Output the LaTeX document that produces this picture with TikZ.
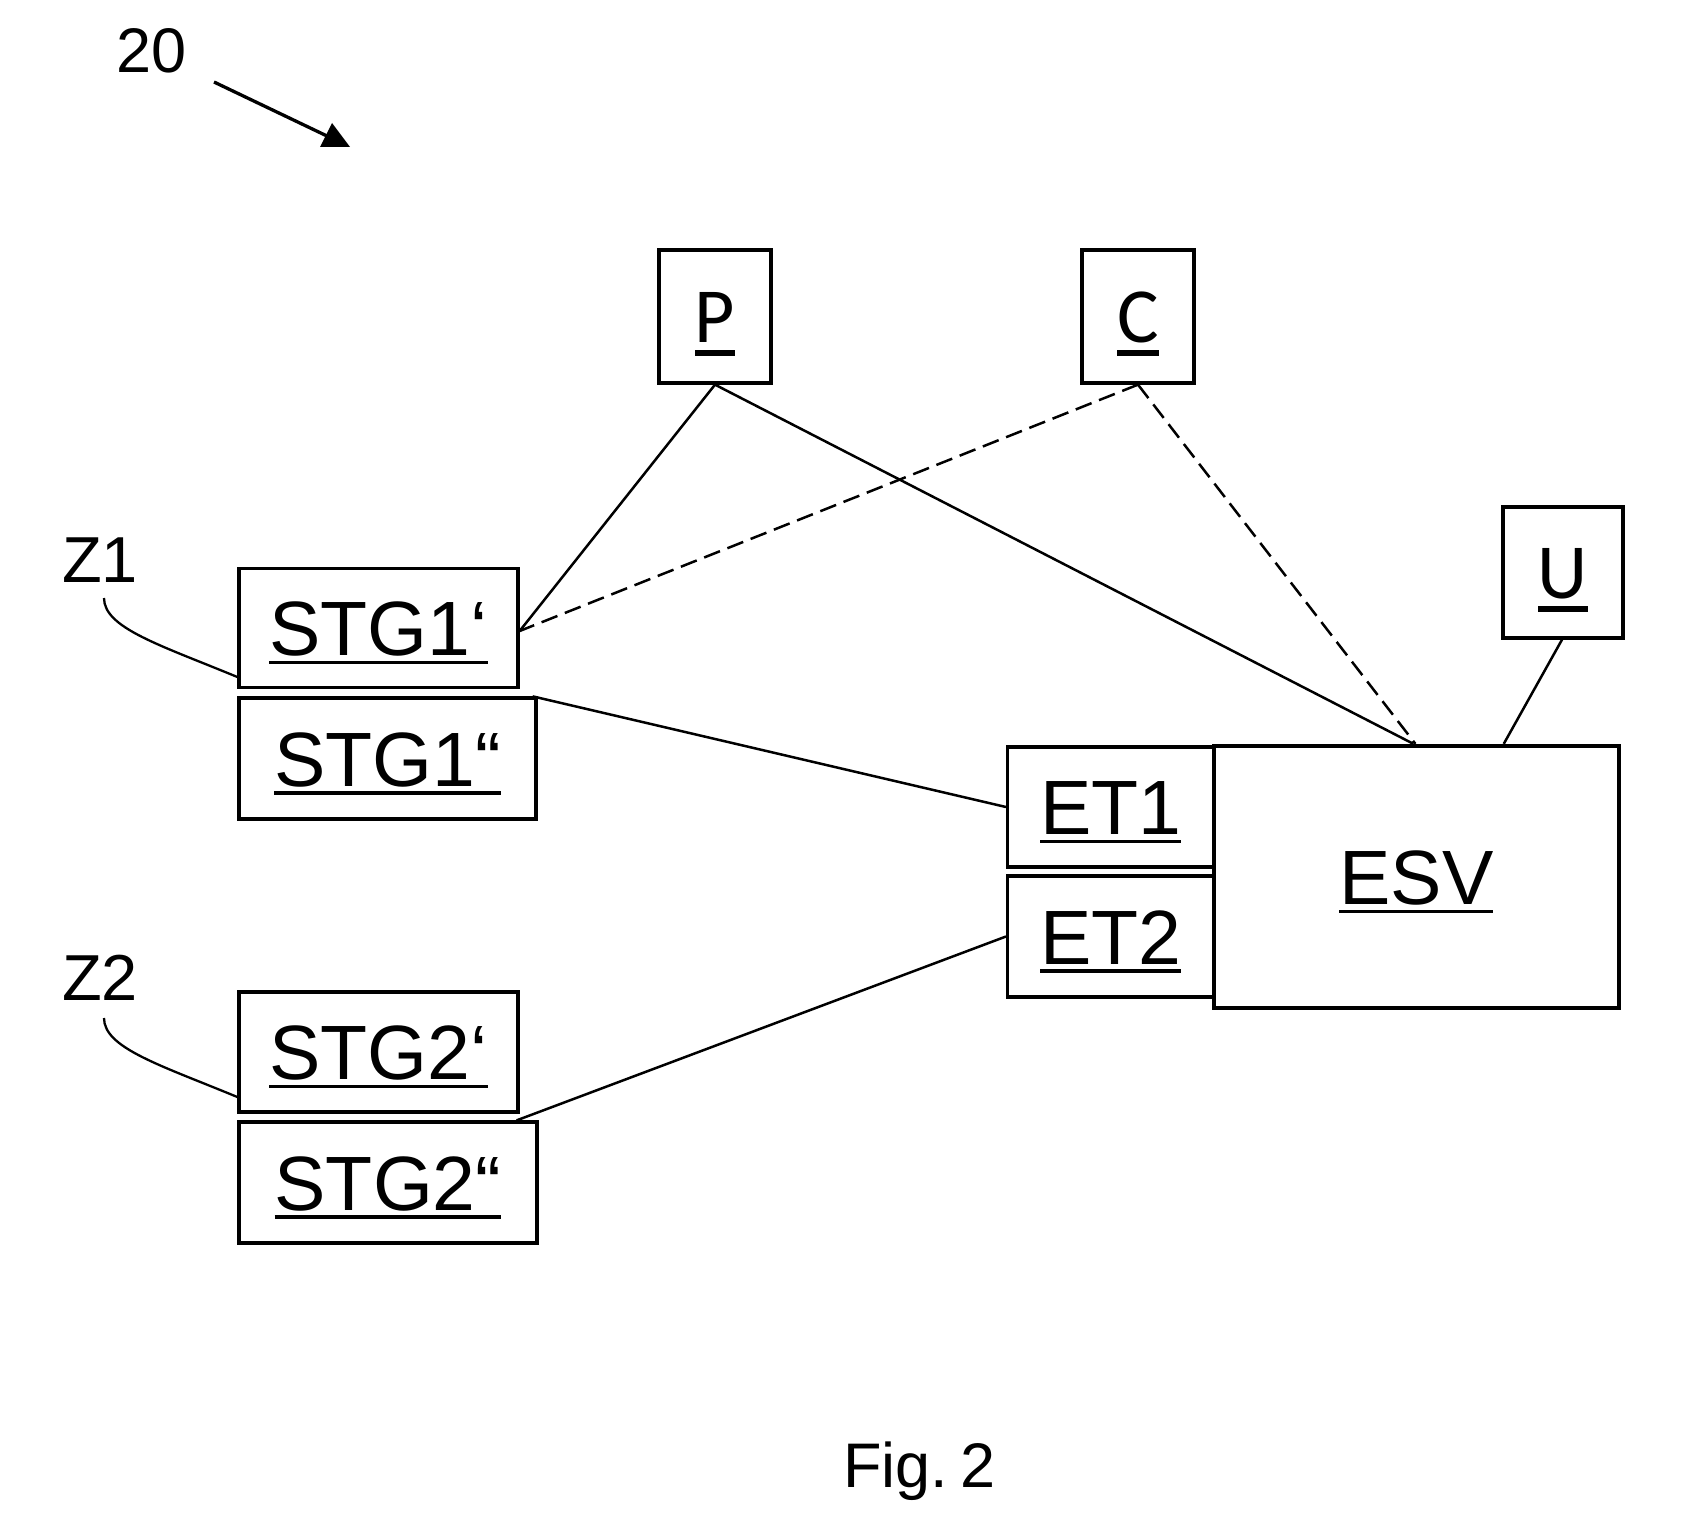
\documentclass[tikz,border=0pt]{standalone}
\usepackage{fontspec}
\setmainfont{Liberation Sans}
\newfontfamily\calfont{Carlito}
\usetikzlibrary{calc}
\newcommand\ulA[1]{\setbox0\hbox{#1}\rlap{\rule[-8.7pt]{\wd0}{3.4pt}}\box0}
\newcommand\ulB[1]{\setbox0\hbox{#1}\rlap{\rule[-13.8pt]{\wd0}{5.5pt}}\box0}
\newcommand\lblA[1]{\smash{\raisebox{-27.5pt}{\ulA{#1}}}}
\newcommand\lblB[1]{\smash{\raisebox{-25.5pt}{\ulB{#1}}}}
\tikzset{
  blk/.style={draw, line width=3.3pt, inner sep=0pt, fill=white, font=\fontsize{77}{80}\selectfont},
  sml/.style={draw, line width=3.3pt, inner sep=0pt, font=\calfont\fontsize{78}{80}\selectfont, minimum width=112pt, minimum height=133pt},
  conn/.style={line width=2.5pt},
  dconn/.style={conn, dash pattern=on 17pt off 8pt},
  lead/.style={line width=2.3pt},
  tag/.style={inner sep=0pt, anchor=base west},
}
\begin{document}
\begin{tikzpicture}[x=1pt, y=-1pt]
\useasboundingbox[fill=white] (0,0) rectangle (1681,1538);

% reference numeral 20 with arrow
\node[tag, font=\fontsize{63}{66}\selectfont] (n20) at (116,73) {20};
\coordinate (a0) at (214,82);
\coordinate (a1) at (327,136);
\draw[line width=3.3pt] (a0) -- (a1);
\fill (320,147) -- (332,123) -- (350,147) -- cycle;

% small boxes
\node[sml] (p) at (715,316.5) {\lblB{P}};
\node[sml] (c) at (1138,316.5) {\lblB{C}};
\node[sml, minimum width=120pt, minimum height=131pt] (u) at (1563,572.5) {\lblB{U}};

% STG boxes
\node[blk, minimum width=279pt, minimum height=119pt] (stg1a) at (378.5,628) {\lblA{STG1‘}};
\node[blk, minimum width=297pt, minimum height=121pt] (stg1b) at (387.5,758.5) {\lblA{STG1“}};
\node[blk, minimum width=279pt, minimum height=120pt] (stg2a) at (378.5,1052) {\lblA{STG2‘}};
\node[blk, minimum width=298pt, minimum height=121pt] (stg2b) at (388,1182.5) {\lblA{STG2“}};

% ET and ESV
\node[blk, minimum width=206pt, minimum height=120pt] (et1) at (1110.6,807) {\lblA{ET1}};
\node[blk, minimum width=206pt, minimum height=121pt] (et2) at (1110.6,936.5) {\lblA{ET2}};
\node[blk, line width=4.3pt, minimum width=405pt, minimum height=262pt] (esv) at (1416.4,877) {\lblA{ESV}};

% zone labels
\node[tag, font=\fontsize{65}{68}\selectfont] (z1) at (62,582) {Z1};
\node[tag, font=\fontsize{65}{68}\selectfont] (z2) at (62,1000) {Z2};
\draw[lead] (104,598) .. controls (104,628) and (160,645) .. (stg1a.west |- 0,677);
\draw[lead] (104,1018) .. controls (104,1048) and (160,1065) .. (stg2a.west |- 0,1097);

% connectors
\draw[conn] (p.south) -- ([yshift=-3pt]stg1a.east);
\draw[conn] (p.south) -- ([xshift=-3pt]esv.north);
\draw[dconn] (c.south) -- ([yshift=-3pt]stg1a.east);
\draw[dconn] (c.south) -- ([xshift=-1pt]esv.north);
\draw[conn] ([xshift=-1pt]u.south) -- ([xshift=292pt]esv.north west);
\draw[conn] ([xshift=-5pt]stg1b.north east) -- (et1.west);
\draw[conn] ([xshift=-22pt]stg2b.north east) -- (et2.west);

% caption
\node[tag, font=\fontsize{63}{66}\selectfont] (fig) at (843,1487) {Fig.\hspace{0.2em}2};
\end{tikzpicture}
\end{document}
